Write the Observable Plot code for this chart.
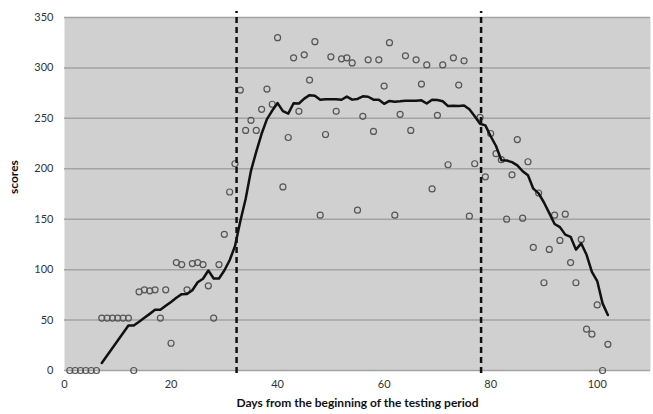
<!DOCTYPE html>
<html><head><meta charset="utf-8">
<script src="https://cdn.jsdelivr.net/npm/d3@7"></script>
<script src="https://cdn.jsdelivr.net/npm/@observablehq/plot@0.6"></script>
<style>
html,body{margin:0;padding:0;background:#fff;}
#chart svg{display:block;}
</style></head><body><div id="chart"></div>
<script>
const days = [1,2,3,4,5,6,7,8,9,10,11,12,13,14,15,16,17,18,19,20,
  21,22,23,24,25,26,27,28,29,30,31,32,33,34,35,36,37,38,39,40,
  41,42,43,44,45,46,47,48,49,50,51,52,53,54,55,56,57,58,59,60,
  61,62,63,64,65,66,67,68,69,70,71,72,73,74,75,76,77,78,79,80,
  81,82,83,84,85,86,87,88,89,90,91,92,93,94,95,96,97,98,99,100,101,102];
const scores = [0,0,0,0,0,0,52,52,52,52,52,52,0,78,80,79,80,52,80,27,
  107,105,80,106,107,105,84,52,105,135,177,205,278,238,248,238,259,279,264,330,
  182,231,310,257,313,288,326,154,234,311,257,309,310,305,159,252,308,237,308,282,
  325,154,254,312,238,308,284,303,180,253,303,204,310,283,307,153,205,251,192,235,
  215,209,150,194,229,151,207,122,176,87,120,154,129,155,107,87,130,41,36,65,0,26];
const periodBounds = [32.3, 78.2];
const xTicks = [0,20,40,60,80,100];
const yTicks = [0,50,100,150,200,250,300,350];
const xLabel = "Days from the beginning of the testing period";
const yLabel = "scores";

const data = days.map((d,i)=>({day:d, score:scores[i]}));

const chart = Plot.plot({
  width:653, height:414,
  marginTop:17, marginBottom:44, marginLeft:64, marginRight:3,
  style:{fontFamily:"Lato, 'Open Sans', sans-serif", fontSize:"11px", color:"#333", background:"#fff", overflow:"visible"},
  x:{domain:[0,110], ticks:xTicks, tickSize:0, tickPadding:10, label:null},
  y:{domain:[0,350], ticks:yTicks, tickSize:0, tickPadding:11, label:null},
  marks:[
    Plot.frame({fill:"#d0d0d0", stroke:"none"}),
    Plot.ruleY(yTicks, {stroke:"#a3a3a3", strokeWidth:1.5}),
    Plot.dot(data, {x:"day", y:"score", r:3, stroke:"#555", strokeWidth:1.2, fill:"none"}),
    Plot.lineY(data, Plot.windowY({k:7, anchor:"end", reduce:"mean", strict:true}, {x:"day", y:"score", stroke:"#111", strokeWidth:2.5, strokeLinejoin:"round"})),
    Plot.ruleX(periodBounds, {y1:-3, y2:356, stroke:"#111", strokeWidth:2.5, strokeDasharray:"6,4"}),
    Plot.text([xLabel], {frameAnchor:"bottom", dy:36, fontWeight:"bold", fontSize:12, fill:"#111"}),
    Plot.text([yLabel], {frameAnchor:"left", dx:-50, rotate:-90, fontWeight:"bold", fontSize:12, fill:"#111"})
  ]
});
document.getElementById("chart").appendChild(chart);
</script></body></html>
